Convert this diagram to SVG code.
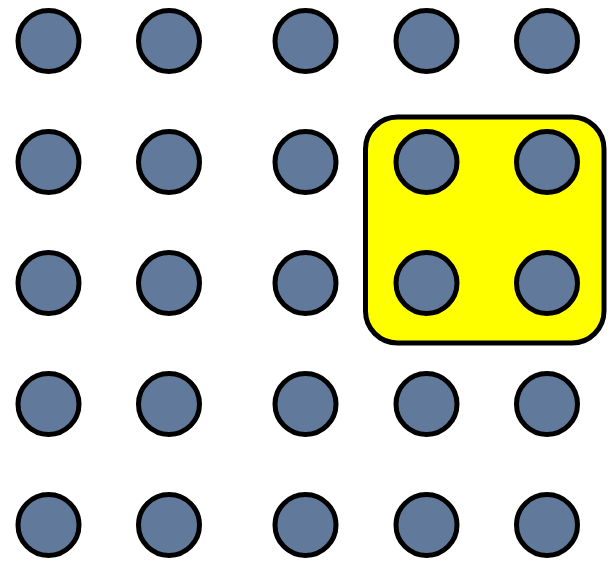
<svg xmlns="http://www.w3.org/2000/svg" width="608" height="562" viewBox="0 0 608 562">
<style>
.dot{fill:#61799a;stroke:#000;stroke-width:5}
.box{fill:#ffff00;stroke:#000;stroke-width:5}
</style>
<rect width="608" height="562" fill="#fff"/>
<g id="highlight"><rect class="box" x="365.5" y="117" width="238.5" height="226" rx="32" ry="32"/></g>
<g id="connectors"></g>
<g id="r1">
<circle id="n11" class="dot" cx="48.5" cy="41" r="30.5"/>
<circle id="n12" class="dot" cx="169" cy="41" r="30.5"/>
<circle id="n13" class="dot" cx="305.5" cy="41" r="30.5"/>
<circle id="n14" class="dot" cx="426.5" cy="41" r="30.5"/>
<circle id="n15" class="dot" cx="547" cy="41" r="30.5"/>
</g>
<g id="r2">
<circle id="n21" class="dot" cx="48.5" cy="162" r="30.5"/>
<circle id="n22" class="dot" cx="169" cy="162" r="30.5"/>
<circle id="n23" class="dot" cx="305.5" cy="162" r="30.5"/>
<circle id="n24" class="dot" cx="426.5" cy="162" r="30.5"/>
<circle id="n25" class="dot" cx="547" cy="162" r="30.5"/>
</g>
<g id="r3">
<circle id="n31" class="dot" cx="48.5" cy="283" r="30.5"/>
<circle id="n32" class="dot" cx="169" cy="283" r="30.5"/>
<circle id="n33" class="dot" cx="305.5" cy="283" r="30.5"/>
<circle id="n34" class="dot" cx="426.5" cy="283" r="30.5"/>
<circle id="n35" class="dot" cx="547" cy="283" r="30.5"/>
</g>
<g id="r4">
<circle id="n41" class="dot" cx="48.5" cy="404" r="30.5"/>
<circle id="n42" class="dot" cx="169" cy="404" r="30.5"/>
<circle id="n43" class="dot" cx="305.5" cy="404" r="30.5"/>
<circle id="n44" class="dot" cx="426.5" cy="404" r="30.5"/>
<circle id="n45" class="dot" cx="547" cy="404" r="30.5"/>
</g>
<g id="r5">
<circle id="n51" class="dot" cx="48.5" cy="525" r="30.5"/>
<circle id="n52" class="dot" cx="169" cy="525" r="30.5"/>
<circle id="n53" class="dot" cx="305.5" cy="525" r="30.5"/>
<circle id="n54" class="dot" cx="426.5" cy="525" r="30.5"/>
<circle id="n55" class="dot" cx="547" cy="525" r="30.5"/>
</g>
</svg>
